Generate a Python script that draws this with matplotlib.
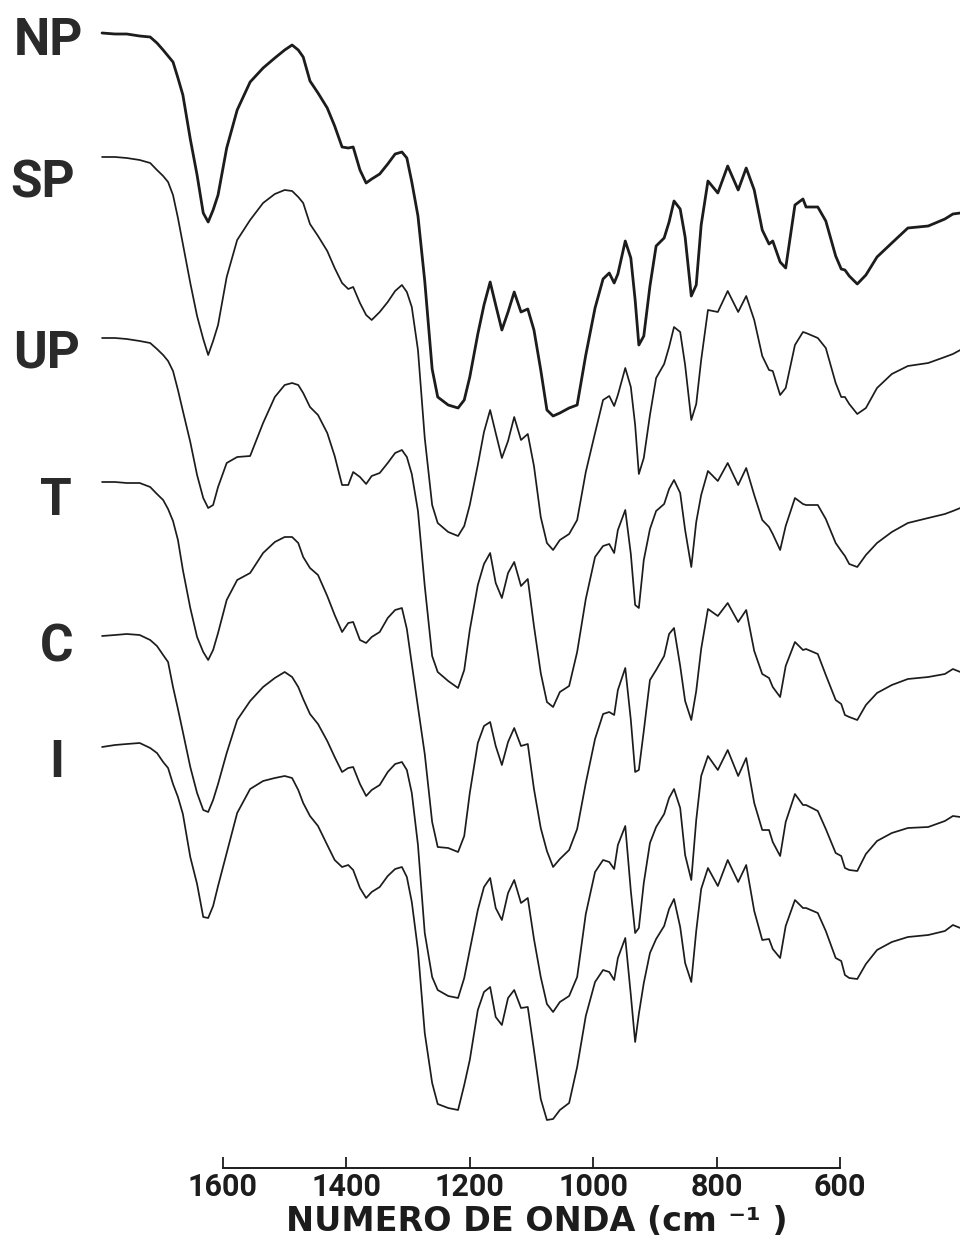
import matplotlib
matplotlib.use("Agg")
import matplotlib.pyplot as plt

# numero de onda (cm-1): grilla comun leida sobre los seis espectros
wavenumber = [
    1796, 1775, 1756, 1735, 1718, 1707, 1697, 1689, 1681, 1673,
    1665, 1653, 1642, 1632, 1624, 1616, 1608, 1594, 1577, 1556,
    1535, 1516, 1500, 1488, 1478, 1470, 1459, 1446, 1431, 1419,
    1407, 1397, 1389, 1378, 1368, 1359, 1346, 1333, 1321, 1310,
    1302, 1294, 1284, 1273, 1261, 1252, 1235, 1219, 1209, 1200,
    1187, 1177, 1167, 1158, 1148, 1138, 1128, 1117, 1106, 1096,
    1085, 1075, 1065, 1054, 1039, 1026, 1012, 997, 984, 974,
    966, 960, 948, 939, 932, 926, 918, 908, 898, 885,
    877, 869, 859, 851, 841, 833, 825, 814, 798, 782,
    765, 752, 739, 726, 715, 709, 697, 688, 673, 660,
    655, 636, 623, 607, 598, 592, 585, 572, 558, 540,
    516, 490, 457, 430, 417, 405]

# senal apilada (u.a., crece hacia abajo en el grafico)
spec_np = [
    33, 34, 34, 36, 37, 43, 50, 56, 62, 78,
    95, 139, 175, 213, 222, 210, 195, 148, 110, 82,
    68, 58, 50, 45, 50, 57, 81, 93, 108, 126,
    147, 148, 147, 170, 183, 179, 174, 164, 154, 152,
    158, 182, 216, 281, 369, 397, 405, 408, 400, 377,
    334, 305, 282, 305, 330, 312, 292, 312, 309, 330,
    370, 410, 416, 413, 408, 405, 355, 308, 279, 273,
    283, 274, 241, 258, 300, 345, 336, 286, 246, 238,
    222, 201, 209, 237, 296, 285, 225, 181, 193, 166,
    190, 168, 190, 230, 244, 241, 262, 268, 205, 199,
    207, 207, 221, 256, 269, 270, 276, 284, 275, 257,
    243, 228, 226, 219, 214, 213]

spec_sp = [
    157, 157, 158, 160, 163, 170, 176, 182, 195, 218,
    244, 283, 316, 339, 355, 341, 325, 277, 240, 220,
    203, 194, 190, 191, 197, 203, 224, 236, 251, 268,
    283, 289, 287, 303, 315, 320, 312, 302, 291, 285,
    292, 307, 350, 438, 505, 523, 532, 536, 526, 505,
    465, 432, 410, 433, 458, 441, 417, 440, 434, 466,
    517, 543, 550, 540, 534, 520, 472, 433, 400, 396,
    406, 395, 368, 387, 425, 474, 458, 415, 378, 364,
    347, 327, 332, 365, 420, 404, 360, 310, 312, 291,
    312, 296, 320, 356, 370, 371, 395, 388, 345, 332,
    333, 338, 348, 383, 397, 397, 404, 414, 408, 388,
    374, 366, 363, 357, 354, 350]

spec_up = [
    338, 338, 339, 341, 343, 349, 355, 361, 371, 390,
    411, 442, 475, 498, 508, 505, 487, 463, 457, 456,
    423, 397, 385, 383, 385, 393, 407, 415, 433, 456,
    485, 485, 472, 477, 484, 476, 473, 463, 453, 450,
    457, 474, 511, 586, 656, 672, 681, 688, 670, 630,
    585, 564, 553, 583, 598, 573, 562, 586, 579, 626,
    673, 702, 707, 692, 686, 652, 599, 557, 546, 544,
    553, 530, 510, 554, 605, 608, 560, 529, 511, 504,
    489, 480, 493, 530, 567, 522, 495, 471, 481, 463,
    485, 468, 495, 520, 527, 534, 550, 526, 498, 504,
    505, 505, 519, 543, 551, 556, 564, 567, 555, 543,
    532, 523, 518, 514, 511, 508]

spec_t = [
    482, 482, 483, 483, 487, 494, 500, 509, 521, 540,
    570, 608, 637, 652, 660, 650, 633, 600, 580, 573,
    553, 542, 537, 537, 543, 557, 568, 575, 596, 615,
    632, 623, 622, 640, 643, 637, 632, 618, 610, 608,
    629, 664, 707, 754, 822, 847, 848, 852, 836, 793,
    743, 726, 722, 746, 765, 742, 728, 746, 744, 789,
    828, 851, 867, 859, 850, 829, 783, 739, 714, 712,
    715, 690, 668, 720, 772, 770, 731, 680, 670, 656,
    634, 628, 666, 701, 720, 691, 649, 609, 616, 603,
    622, 610, 651, 674, 678, 687, 697, 666, 642, 650,
    649, 654, 675, 700, 704, 715, 717, 720, 705, 693,
    685, 679, 677, 674, 669, 672]

spec_c = [
    636, 635, 634, 635, 640, 646, 655, 662, 687, 709,
    732, 767, 793, 810, 812, 800, 784, 753, 720, 701,
    687, 678, 672, 677, 687, 699, 714, 724, 741, 757,
    772, 768, 767, 784, 796, 790, 785, 772, 764, 762,
    770, 793, 845, 933, 977, 990, 996, 998, 978, 950,
    910, 887, 878, 908, 920, 893, 880, 903, 898, 939,
    977, 1004, 1012, 1002, 996, 977, 914, 872, 860, 862,
    869, 845, 826, 891, 933, 928, 883, 843, 827, 814,
    798, 789, 808, 855, 880, 820, 776, 756, 770, 750,
    776, 758, 803, 830, 830, 842, 856, 822, 794, 805,
    805, 811, 829, 853, 856, 868, 870, 871, 854, 841,
    833, 828, 827, 821, 816, 817]

spec_i = [
    747, 745, 744, 743, 748, 753, 762, 768, 784, 797,
    814, 857, 884, 917, 918, 906, 886, 853, 813, 789,
    781, 778, 776, 778, 790, 803, 816, 826, 845, 860,
    867, 865, 870, 888, 898, 892, 887, 876, 869, 867,
    877, 902, 950, 1033, 1083, 1104, 1108, 1110, 1085, 1060,
    1010, 992, 987, 1017, 1025, 998, 990, 1008, 1007, 1050,
    1099, 1120, 1119, 1110, 1103, 1067, 1016, 982, 970, 972,
    980, 958, 938, 995, 1042, 1014, 983, 953, 939, 926,
    909, 899, 927, 963, 982, 931, 889, 868, 886, 860,
    882, 865, 911, 940, 939, 949, 958, 926, 900, 908,
    908, 913, 931, 958, 961, 975, 978, 979, 964, 950,
    942, 937, 935, 931, 925, 928]

sample_names = ["NP", "SP", "UP", "T", "C", "I"]
spectra = [spec_np, spec_sp, spec_up, spec_t, spec_c, spec_i]
tick_values = [1600, 1400, 1200, 1000, 800, 600]

plt.rcParams['font.family'] = ['Roboto', 'DejaVu Sans']
ink = "#1c1c1c"

fig = plt.figure(figsize=(9.6, 12.49), dpi=100)
ax = fig.add_axes([0, 81 / 1249, 1, 1168 / 1249])

for name, values in zip(sample_names, spectra):
    lw = 2.0 if name == "NP" else 1.25
    ax.plot(wavenumber, values, color=ink, lw=lw,
            solid_joinstyle="round", solid_capstyle="round")

# etiquetas de cada muestra, a la izquierda de su espectro
label_x = [0.050, 0.044, 0.049, 0.058, 0.059, 0.059]
label_y = [55, 197, 368, 515, 661, 777]
for name, lx, ly in zip(sample_names, label_x, label_y):
    ax.text(lx, ly, name, transform=ax.get_yaxis_transform(),
            ha="center", va="baseline", fontsize=37, fontweight="bold", color="#2a2a2a")

ax.set_xlim(1961.4, 405.5)
ax.set_ylim(1168, 0)

for side in ["top", "left", "right"]:
    ax.spines[side].set_visible(False)
ax.spines["bottom"].set_bounds(600, 1600)
ax.spines["bottom"].set_linewidth(1.4)
ax.spines["bottom"].set_color(ink)
ax.set_yticks([])
ax.set_xticks(tick_values)
ax.set_xticklabels([str(v) for v in tick_values])
ax.tick_params(axis="x", direction="in", length=8, width=1.3, pad=3,
               labelsize=22, colors=ink)
for lab in ax.get_xticklabels():
    lab.set_fontweight("bold")
    lab.set_x(lab.get_position()[0])

ax.set_xlabel("NUMERO DE ONDA (cm ⁻¹ )", fontsize=24, fontweight="bold",
              color=ink, family=["DejaVu Sans"])
ax.xaxis.set_label_coords(537 / 960, -(1205 - 1168) / 1168)

fig.savefig("out.png", dpi=100, facecolor="white")
